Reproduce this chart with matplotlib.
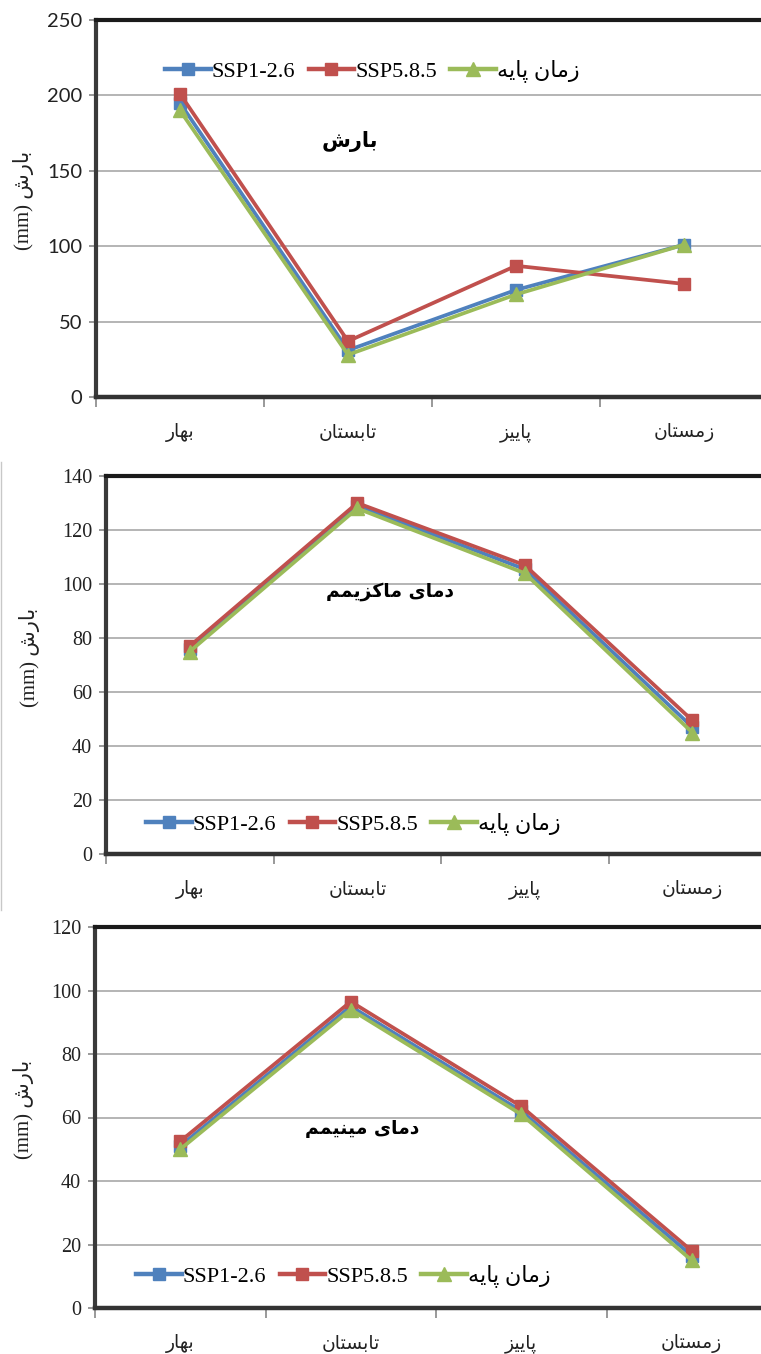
import matplotlib
matplotlib.use("Agg")
import matplotlib.pyplot as plt
from matplotlib.lines import Line2D
from matplotlib.ticker import FixedLocator, NullFormatter

# ---------------------------------------------------------------- data
SEASONS = ["بهار", "تابستان", "پاییز", "زمستان"]
SERIES_NAMES = ["SSP1-2.6", "SSP5.8.5", "زمان پایه"]

precip_ssp126 = [195, 31, 71, 101]
precip_ssp585 = [201, 37, 87, 75]
precip_base = [190, 28, 68, 101]

tmax_ssp126 = [76, 129, 105.5, 47]
tmax_ssp585 = [77, 130, 107, 49.5]
tmax_base = [75, 128, 104, 45]

tmin_ssp126 = [51, 95, 62, 16.5]
tmin_ssp585 = [52.5, 96.5, 63.5, 18]
tmin_base = [50, 94, 61, 15]

PANEL_TITLES = ["بارش", "دمای ماکزیمم", "دمای مینیمم"]
Y_LABEL_WORD = "بارش"
Y_LABEL_UNIT = "(mm)"
Y_MAX = [250, 140, 120]
Y_STEP = [50, 20, 20]

# ---------------------------------------------------------------- arabic shaping
FORMS = {
    "ا": ("\uFE8D", "\uFE8E"),
    "د": ("\uFEA9", "\uFEAA"),
    "ر": ("\uFEAD", "\uFEAE"),
    "ز": ("\uFEAF", "\uFEB0"),
    "ب": ("\uFE8F", "\uFE90", "\uFE91", "\uFE92"),
    "ت": ("\uFE95", "\uFE96", "\uFE97", "\uFE98"),
    "س": ("\uFEB1", "\uFEB2", "\uFEB3", "\uFEB4"),
    "ش": ("\uFEB5", "\uFEB6", "\uFEB7", "\uFEB8"),
    "م": ("\uFEE1", "\uFEE2", "\uFEE3", "\uFEE4"),
    "ن": ("\uFEE5", "\uFEE6", "\uFEE7", "\uFEE8"),
    "ه": ("\uFEE9", "\uFEEA", "\uFEEB", "\uFEEC"),
    "پ": ("\uFB56", "\uFB57", "\uFB58", "\uFB59"),
    "ک": ("\uFB8E", "\uFB8F", "\uFB90", "\uFB91"),
    "ی": ("\uFBFC", "\uFBFD", "\uFBFE", "\uFBFF"),
}


def rtl(text):
    """Join Persian letters into contextual forms and return visual order."""
    out = []
    n = len(text)
    for i, ch in enumerate(text):
        forms = FORMS.get(ch)
        if forms is None:
            out.append(ch)
            continue
        prev = text[i - 1] if i > 0 else None
        nxt = text[i + 1] if i < n - 1 else None
        join_prev = prev in FORMS and len(FORMS[prev]) == 4
        join_next = len(forms) == 4 and nxt in FORMS
        if join_prev and join_next:
            out.append(forms[3])
        elif join_prev:
            out.append(forms[1])
        elif join_next:
            out.append(forms[2])
        else:
            out.append(forms[0])
    return "".join(reversed(out))


# ---------------------------------------------------------------- style
BLUE = "#4F81BD"
RED = "#C0504D"
GREEN = "#9BBB59"
COLORS = [BLUE, RED, GREEN]
MARKERS = ["s", "s", "^"]
MSIZES = [8.5, 8.5, 10.5]

SERIF = ["Liberation Serif", "DejaVu Sans"]
SANS = ["Lato", "DejaVu Sans"]
ARABIC = ["DejaVu Sans"]

W, H = 761, 1354
fig = plt.figure(figsize=(W / 100, H / 100), dpi=100)
fig.patch.set_facecolor("white")

# panel boxes in pixels: left, top, bottom, category spacing
BOXES = [
    (96, 20, 397, 168),
    (106, 476, 854, 167.5),
    (95, 927, 1308, 170.5),
]
TITLE_POS = [(350, 141), (390, 592), (362, 1128)]
TITLE_SIZE = [15, 13.5, 13.5]
LEGEND_POS = [(165, 71), (146, 824), (136, 1276)]
YLABEL_X = [23, 30, 23]
TICK_FONTS = [SANS, SERIF, SERIF]

panels = [
    (precip_ssp126, precip_ssp585, precip_base),
    (tmax_ssp126, tmax_ssp585, tmax_base),
    (tmin_ssp126, tmin_ssp585, tmin_base),
]

x = list(range(len(SEASONS)))

for p, (series, (left, top, bottom, step)) in enumerate(zip(panels, BOXES)):
    width = step * len(SEASONS)
    ax = fig.add_axes([left / W, 1 - bottom / H, width / W, (bottom - top) / H])
    ax.set_xlim(-0.5, len(SEASONS) - 0.5)
    ax.set_ylim(0, Y_MAX[p])

    # gridlines
    ax.yaxis.set_major_locator(FixedLocator(range(0, Y_MAX[p] + 1, Y_STEP[p])))
    ax.grid(axis="y", color="#B4B4B4", linewidth=1.4, zorder=0)
    ax.set_axisbelow(True)

    # spines
    ax.spines["top"].set_linewidth(3.0)
    ax.spines["top"].set_color("#1A1A1A")
    ax.spines["bottom"].set_linewidth(3.2)
    ax.spines["bottom"].set_color("#333333")
    ax.spines["left"].set_linewidth(3.0)
    ax.spines["left"].set_color("#3A3A3A")
    ax.spines["right"].set_visible(False)

    # series
    for vals, color, marker, ms in zip(series, COLORS, MARKERS, MSIZES):
        ax.plot(x, vals, color=color, linewidth=2.7, marker=marker,
                markersize=ms, markeredgecolor=color, markerfacecolor=color,
                zorder=3)

    # ticks: boundaries carry the tick marks, centres carry the labels
    ax.xaxis.set_major_locator(FixedLocator([-0.5, 0.5, 1.5, 2.5, 3.5]))
    ax.xaxis.set_major_formatter(NullFormatter())
    ax.xaxis.set_minor_locator(FixedLocator(x))
    ax.set_xticklabels([rtl(s) for s in SEASONS], minor=True,
                       fontfamily=ARABIC, fontsize=13.5, color="#222222")
    ax.tick_params(axis="x", which="major", length=7, width=1.2,
                   color="#888888", direction="out")
    ax.tick_params(axis="x", which="minor", length=0, pad=19)
    ax.tick_params(axis="y", length=5, width=1.2, color="#888888",
                   direction="out", pad=5)
    for lab in ax.get_yticklabels():
        lab.set_fontfamily(TICK_FONTS[p])
        lab.set_fontsize(14.5)
        lab.set_color("#222222")

    # y label
    fig.text(YLABEL_X[p] / W, 1 - ((top + bottom) / 2 - 8) / H,
             Y_LABEL_UNIT + " " + rtl(Y_LABEL_WORD), rotation=90,
             ha="center", va="center", fontsize=15, family=SERIF,
             color="#222222")

    # panel title
    tx, ty = TITLE_POS[p]
    fig.text(tx / W, 1 - ty / H, rtl(PANEL_TITLES[p]), ha="center",
             va="center", fontsize=TITLE_SIZE[p], fontweight="bold",
             family=ARABIC, color="black")

    # legend
    handles = [Line2D([], [], color=c, linewidth=3.2, marker=m, markersize=ms,
                      markeredgecolor=c, markerfacecolor=c)
               for c, m, ms in zip(COLORS, MARKERS, MSIZES)]
    lx, ly = LEGEND_POS[p]
    ax.legend(handles, [SERIES_NAMES[0], SERIES_NAMES[1], rtl(SERIES_NAMES[2])],
              loc="center left", bbox_to_anchor=(lx / W, 1 - ly / H),
              bbox_transform=fig.transFigure, ncol=3, frameon=False,
              borderpad=0, borderaxespad=0, handlelength=2.05,
              handletextpad=0.05, columnspacing=0.6,
              prop={"family": SERIF, "size": 16})

# thin frame line at the left of the middle panel
fig.add_artist(Line2D([1.5 / W, 1.5 / W], [1 - 462 / H, 1 - 910 / H],
                      transform=fig.transFigure, color="#C8C8C8",
                      linewidth=1.0))

fig.savefig("out.png", dpi=100, facecolor="white")
